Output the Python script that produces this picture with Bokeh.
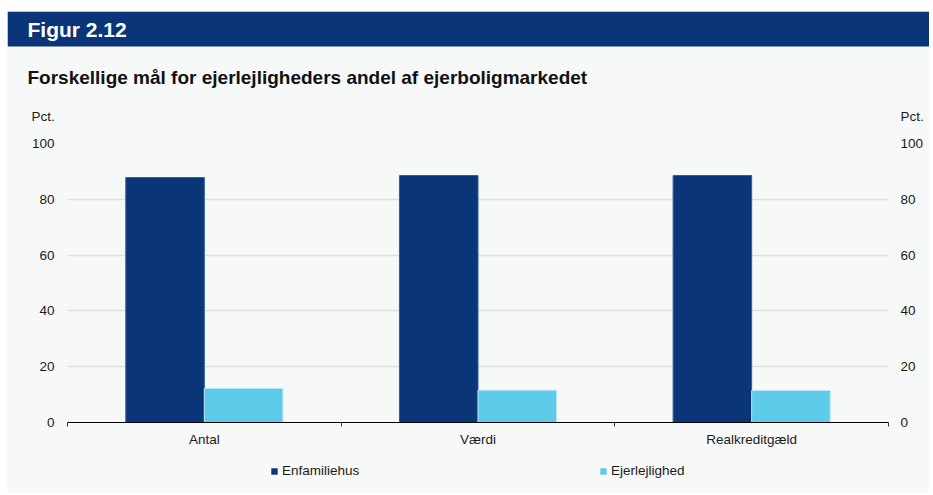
import numpy as np
from bokeh.plotting import figure
from bokeh.layouts import column
from bokeh.models import (ColumnDataSource, Range1d, FixedTicker, LinearAxis, Label,
                          Legend, LegendItem, BoxAnnotation)
from bokeh.transform import dodge
from bokeh.embed import file_html
from bokeh.resources import INLINE

# ---- data ----
categories = ["Antal", "Værdi", "Realkreditgæld"]
enfamiliehus = [87.8, 88.5, 88.5]
ejerlejlighed = [12.2, 11.6, 11.5]
series_names = ["Enfamiliehus", "Ejerlejlighed"]
y_ticks = [0, 20, 40, 60, 80, 100]

DARK = "#0a3578"
LIGHT = "#5ecbea"
BG = "#f7f9f9"
FONT = "Liberation Sans"
TXT = "#1a1a1a"

W = 922
HEAD_H = 119


def bare(fig):
    fig.border_fill_color = BG
    fig.background_fill_color = BG
    fig.outline_line_color = None
    try:
        fig.frame_align = False
    except Exception:
        pass


# ---- header: band, title, unit labels ----
head = figure(width=W, height=HEAD_H, output_backend="svg", toolbar_location=None,
              x_range=Range1d(0, W), y_range=Range1d(HEAD_H, 0),
              x_axis_location=None, y_axis_location=None, min_border=0)
bare(head)
head.grid.visible = False
head.add_layout(BoxAnnotation(left=0, right=W, top=0, bottom=35, fill_color=DARK,
                              fill_alpha=1, line_color=None))
head.add_layout(Label(x=20, y=17.5, text="Figur 2.12",
                      text_font=FONT, text_font_style="bold", text_font_size="21px",
                      text_color="white", text_baseline="middle", text_align="left"))
head.add_layout(Label(x=20, y=66,
                      text="Forskellige mål for ejerlejligheders andel af ejerboligmarkedet",
                      text_font=FONT, text_font_style="bold", text_font_size="19px",
                      text_color="#111111", text_baseline="middle", text_align="left"))
head.add_layout(Label(x=24, y=105, text="Pct.",
                      text_font=FONT, text_font_size="13.5px", text_color=TXT,
                      text_baseline="middle", text_align="left"))
head.add_layout(Label(x=893, y=105, text="Pct.",
                      text_font=FONT, text_font_size="13.5px", text_color=TXT,
                      text_baseline="middle", text_align="left"))

# ---- main chart ----
xc = np.arange(len(categories)) + 0.5
src = ColumnDataSource(dict(x=xc, cat=categories, enf=enfamiliehus, ejer=ejerlejlighed))

p = figure(width=W, height=319, output_backend="svg", toolbar_location=None,
           x_range=Range1d(0, len(categories)), y_range=Range1d(0, 100),
           min_border_top=13, min_border_bottom=27, min_border_left=60, min_border_right=41)
bare(p)

bw = 0.287
p.vbar(x=dodge("x", -bw / 2, range=p.x_range), top="enf", width=bw, source=src,
       fill_color=DARK, line_color="#2f5c9c", line_width=1)
p.vbar(x=dodge("x", bw / 2, range=p.x_range), top="ejer", width=bw, source=src,
       fill_color=LIGHT, line_color="#b8e8f6", line_width=1)

# x axis: labels at category centres, small ticks at category boundaries
xa = p.xaxis[0]
xa.ticker = FixedTicker(ticks=list(xc), minor_ticks=list(np.arange(len(categories) + 1)))
xa.major_label_overrides = {float(v): c for v, c in zip(xc, categories)}
xa.major_tick_line_color = None
xa.major_tick_out = 0
xa.major_tick_in = 0
xa.minor_tick_out = 4
xa.minor_tick_in = 0
xa.minor_tick_line_color = "#333333"
xa.axis_line_color = "black"
xa.axis_line_width = 1.2
xa.major_label_standoff = 5
xa.major_label_text_font = FONT
xa.major_label_text_font_size = "13.5px"
xa.major_label_text_color = TXT

# y axes (left and right)
ya = p.yaxis[0]
ya.ticker = FixedTicker(ticks=y_ticks)
ya2 = LinearAxis(ticker=FixedTicker(ticks=y_ticks))
p.add_layout(ya2, "right")
for ax, st in ((ya, 13), (ya2, 12)):
    ax.axis_line_color = None
    ax.major_tick_line_color = None
    ax.minor_tick_line_color = None
    ax.major_tick_out = 0
    ax.major_tick_in = 0
    ax.major_label_standoff = st
    ax.major_label_text_font = FONT
    ax.major_label_text_font_size = "13.5px"
    ax.major_label_text_color = TXT

p.xgrid.visible = False
p.ygrid.ticker = FixedTicker(ticks=y_ticks[1:])
p.ygrid.grid_line_color = "#dedede"
p.ygrid.grid_line_width = 1.3

# ---- legend strip (hidden key renderers only provide the legend swatches) ----
lf = figure(width=W, height=44, output_backend="svg", toolbar_location=None,
            x_range=Range1d(0, 1), y_range=Range1d(0, 1),
            x_axis_location=None, y_axis_location=None, min_border=0)
bare(lf)
lf.grid.visible = False
k1 = lf.vbar(x="x", top="enf", width=0.1, source=src, fill_color=DARK, line_color=None)
k2 = lf.vbar(x="x", top="ejer", width=0.1, source=src, fill_color=LIGHT, line_color=None)
k1.visible = False
k2.visible = False
legend = Legend(items=[LegendItem(label=series_names[0], renderers=[k1]),
                       LegendItem(label=series_names[1], renderers=[k2])],
                location=(263, 15), orientation="horizontal",
                glyph_width=8, glyph_height=8, label_standoff=4, spacing=0,
                padding=0, margin=0, label_height=9, label_width=317,
                label_text_font=FONT, label_text_font_size="13.5px", label_text_color=TXT,
                border_line_color=None, background_fill_alpha=0)
lf.add_layout(legend, "center")

layout = column(head, p, lf, spacing=0, margin=(11, 0, 0, 7),
                styles={"background-color": BG})
open("out.html", "w").write(file_html(layout, INLINE))
